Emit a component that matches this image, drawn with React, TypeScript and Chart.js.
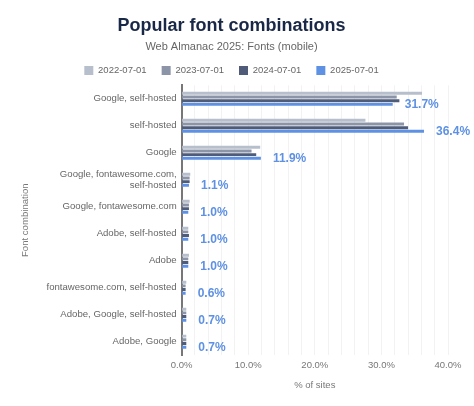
import React, { useEffect, useRef } from "react";
import { Chart, registerables } from "chart.js";

Chart.register(...registerables);

const categories: (string | string[])[] = [
  "Google, self-hosted",
  "self-hosted",
  "Google",
  ["Google, fontawesome.com,", "self-hosted"],
  "Google, fontawesome.com",
  "Adobe, self-hosted",
  "Adobe",
  "fontawesome.com, self-hosted",
  "Adobe, Google, self-hosted",
  "Adobe, Google",
];

const seriesNames = ["2022-07-01", "2023-07-01", "2024-07-01", "2025-07-01"];
const v2022 = [36.1, 27.6, 11.8, 1.3, 1.2, 1.0, 1.1, 0.7, 0.7, 0.7];
const v2023 = [32.3, 33.4, 10.5, 1.2, 1.1, 1.0, 1.0, 0.6, 0.7, 0.7];
const v2024 = [32.7, 34.0, 11.2, 1.2, 1.1, 1.1, 1.0, 0.6, 0.7, 0.7];
const v2025 = [31.7, 36.4, 11.9, 1.1, 1.0, 1.0, 1.0, 0.6, 0.7, 0.7];
const seriesColors = ["#b7bfcd", "#8b95a7", "#4e5c7a", "#5e91e3"];

const FONT = "'Liberation Sans', Arial, sans-serif";

const labelPlugin = {
  id: "lastLabels",
  afterDatasetsDraw(chart: any) {
    const ctx = chart.ctx;
    const meta = chart.getDatasetMeta(3);
    ctx.save();
    ctx.font = "bold 12px " + FONT;
    ctx.fillStyle = "#5e91e3";
    ctx.textAlign = "left";
    ctx.textBaseline = "middle";
    meta.data.forEach((el: any, i: number) => {
      ctx.fillText(v2025[i].toFixed(1) + "%", el.x + 12, el.y);
    });
    ctx.restore();
  },
};

export default function App() {
  const ref = useRef<HTMLCanvasElement>(null);
  useEffect(() => {
    const data = [v2022, v2023, v2024, v2025];
    const chart = new Chart(ref.current!, {
      type: "bar",
      data: {
        labels: categories,
        datasets: seriesNames.map((n, i) => ({
          label: n,
          data: data[i],
          backgroundColor: seriesColors[i],
          borderWidth: 0,
          categoryPercentage: 0.55,
          barPercentage: 0.8,
        })),
      },
      options: {
        indexAxis: "y",
        animation: false,
        responsive: true,
        maintainAspectRatio: false,
        layout: { padding: { left: 15, right: 26, top: 4, bottom: 11 } },
        plugins: {
          title: {
            display: true,
            text: "Popular font combinations",
            color: "#1a2847",
            font: { size: 18, weight: "bold", family: FONT },
            padding: { top: 11, bottom: 4 },
          },
          subtitle: {
            display: true,
            text: "Web Almanac 2025: Fonts (mobile)",
            color: "#666",
            font: { size: 11, family: FONT },
            padding: { top: 0, bottom: -3 },
          },
          legend: {
            display: true,
            labels: {
              boxWidth: 9,
              boxHeight: 9,
              color: "#666",
              padding: 15,
              font: { size: 9.5, family: FONT },
            },
          },
          tooltip: { enabled: false },
        },
        scales: {
          x: {
            min: 0,
            max: 40,
            ticks: {
              stepSize: 2,
              color: "#777",
              font: { size: 9.5, family: FONT },
              autoSkip: false,
              maxRotation: 0,
              padding: 4,
              callback: (v: any) => (Number(v) % 10 === 0 ? Number(v).toFixed(1) + "%" : ""),
            },
            grid: { color: "#f2f2f2", drawTicks: false },
            border: { display: false },
            title: {
              display: true,
              text: "% of sites",
              color: "#777",
              font: { size: 9.5, family: FONT },
              padding: { top: 5, bottom: 4 },
            },
          },
          y: {
            ticks: {
              color: "#666",
              font: { size: 9.6, family: FONT },
              autoSkip: false,
              padding: 5,
            },
            grid: { display: false, drawTicks: false },
            border: { display: true, color: "#777", width: 2 },
            title: {
              display: true,
              text: "Font combination",
              color: "#777",
              font: { size: 9.6, family: FONT },
              padding: { top: 5, bottom: 10 },
            },
          },
        },
      },
      plugins: [labelPlugin],
    } as any);
    return () => chart.destroy();
  }, []);
  return (
    <div style={{ position: "fixed", left: 0, top: 0, width: 474, height: 406, background: "#fff" }}>
      <canvas ref={ref} />
    </div>
  );
}
